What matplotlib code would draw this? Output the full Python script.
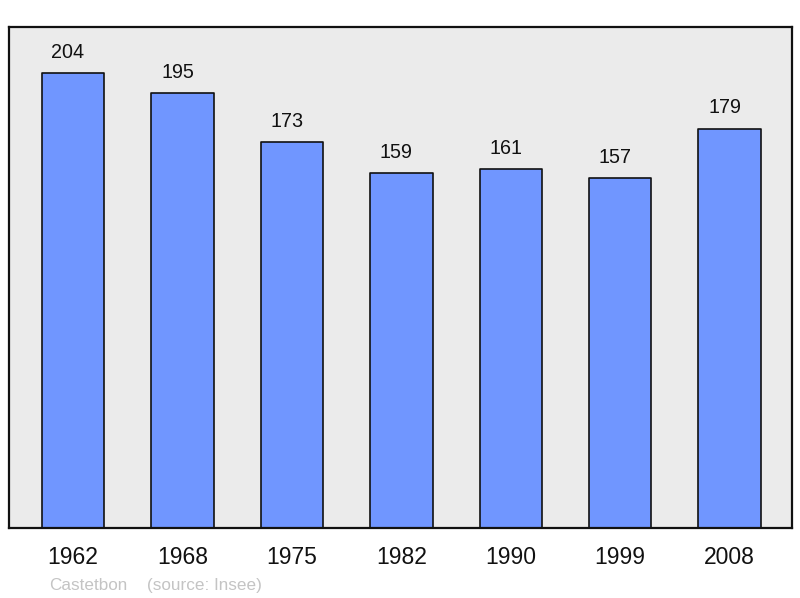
import matplotlib
matplotlib.use("Agg")
import matplotlib.pyplot as plt

years = ["1962", "1968", "1975", "1982", "1990", "1999", "2008"]
population = [204, 195, 173, 159, 161, 157, 179]
commune = "Castetbon"
source = "(source: Insee)"

plt.rcParams['font.family'] = ['Liberation Sans', 'DejaVu Sans']

fig = plt.figure(figsize=(8.0, 5.98), dpi=100)
ax = fig.add_axes([9/800, 70/598, 783/800, 501/598])
ax.set_facecolor('#ebebeb')

x = list(range(len(years)))
ax.bar(x, population, width=0.57, color='#7096ff', edgecolor='#111111',
       linewidth=1.2, joinstyle='round', zorder=2)

for xi, v in zip(x, population):
    ax.annotate(str(v), (xi, v), xytext=(-3.6, 11), textcoords='offset points',
                ha='center', va='baseline', fontsize=14.2, color='#111111')

ax.set_xlim(-0.585, 6.57)
ax.set_ylim(0, 224.6)
ax.set_xticks(x)
ax.set_xticklabels(years, fontsize=16.5, color='#111111')
ax.tick_params(axis='x', length=0, pad=13)
ax.set_yticks([])
for s in ax.spines.values():
    s.set_linewidth(1.6)
    s.set_color('#111111')
    s.set_joinstyle('round')

fig.text(49/800, 1 - 590/598, commune, fontsize=12.3, color='#c4c4c4',
         ha='left', va='baseline')
fig.text(147/800, 1 - 590/598, source, fontsize=12.3, color='#c4c4c4',
         ha='left', va='baseline')

fig.savefig("out.png", dpi=100)
